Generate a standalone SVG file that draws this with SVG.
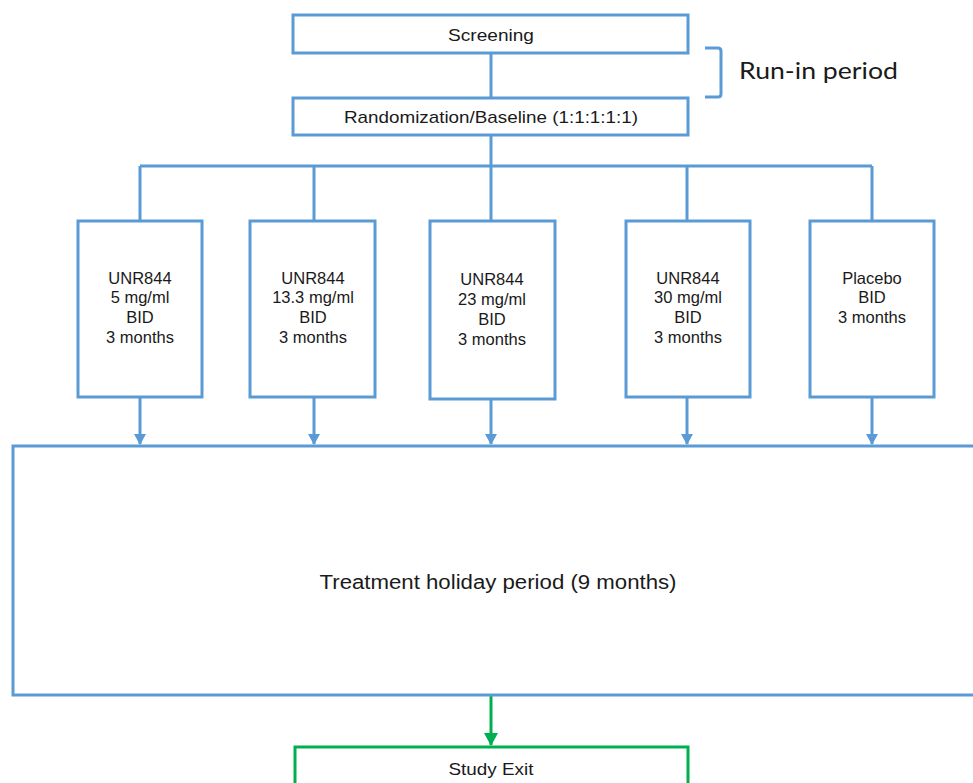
<svg xmlns="http://www.w3.org/2000/svg" width="973" height="783" viewBox="0 0 973 783">
<style>
.b{fill:#fff;stroke:#5B9BD5;stroke-width:3}
.g{fill:#fff;stroke:#00B050;stroke-width:3}
.c{fill:none;stroke:#5B9BD5;stroke-width:3}
.cg{fill:none;stroke:#00B050;stroke-width:3}
text{font-family:"Liberation Sans",Arial,sans-serif;fill:#1a1a1a;text-anchor:middle}
.s{font-size:16.5px}
.t{font-size:17px}
</style>
<defs>
<marker id="ab" markerWidth="12" markerHeight="11" refX="6" refY="10" markerUnits="userSpaceOnUse" viewBox="0 0 12 11"><path d="M0,0 L12,0 L6,11 Z" fill="#5B9BD5"/></marker>
<marker id="ag" markerWidth="14" markerHeight="13" refX="7" refY="12" markerUnits="userSpaceOnUse" viewBox="0 0 14 13"><path d="M0,0 L14,0 L7,13 Z" fill="#00B050"/></marker>
</defs>
<rect width="973" height="783" fill="#fff"/>
<g id="connectors">
<path class="c" d="M491,53 V98"/>
<path class="c" d="M491,135 V166 M140,166 H872 M140,166 V221 M314,166 V221 M687,166 V221 M872,166 V221 M491,166 V221"/>
<path class="c" d="M140,397 V444" marker-end="url(#ab)"/>
<path class="c" d="M314,397 V444" marker-end="url(#ab)"/>
<path class="c" d="M491,399 V444" marker-end="url(#ab)"/>
<path class="c" d="M687,397 V444" marker-end="url(#ab)"/>
<path class="c" d="M872,397 V444" marker-end="url(#ab)"/>
<path class="cg" d="M491,696 V745" marker-end="url(#ag)"/>
</g>
<g id="bracket">
<path class="c" d="M705,48 H718 Q721,48 721,51 V94 Q721,97 718,97 H705"/>
<text x="739" y="79" style="font-family:Lato,'Open Sans',sans-serif;font-size:24px;text-anchor:start" textLength="159" lengthAdjust="spacingAndGlyphs">Run-in period</text>
</g>
<g id="screening"><rect class="b" x="293" y="15" width="395" height="38"/><text class="t" x="491" y="41" textLength="86" lengthAdjust="spacingAndGlyphs">Screening</text></g>
<g id="randomization"><rect class="b" x="293" y="98" width="395" height="37"/><text class="t" x="491" y="123" textLength="294" lengthAdjust="spacingAndGlyphs">Randomization/Baseline (1:1:1:1:1)</text></g>
<g id="arm1"><rect class="b" x="78" y="221" width="124" height="176"/>
<text class="s" x="140" y="284">UNR844</text><text class="s" x="140" y="303">5 mg/ml</text><text class="s" x="140" y="323">BID</text><text class="s" x="140" y="343">3 months</text></g>
<g id="arm2"><rect class="b" x="250" y="221" width="125" height="176"/>
<text class="s" x="313" y="284">UNR844</text><text class="s" x="313" y="303">13.3 mg/ml</text><text class="s" x="313" y="323">BID</text><text class="s" x="313" y="343">3 months</text></g>
<g id="arm3"><rect class="b" x="430" y="221" width="125" height="178"/>
<text class="s" x="492" y="285">UNR844</text><text class="s" x="492" y="305">23 mg/ml</text><text class="s" x="492" y="325">BID</text><text class="s" x="492" y="345">3 months</text></g>
<g id="arm4"><rect class="b" x="626" y="221" width="124" height="176"/>
<text class="s" x="688" y="284">UNR844</text><text class="s" x="688" y="303">30 mg/ml</text><text class="s" x="688" y="323">BID</text><text class="s" x="688" y="343">3 months</text></g>
<g id="arm5"><rect class="b" x="810" y="221" width="124" height="176"/>
<text class="s" x="872" y="284">Placebo</text><text class="s" x="872" y="303">BID</text><text class="s" x="872" y="323">3 months</text></g>
<g id="holiday"><rect class="b" x="13" y="446" width="975" height="249"/>
<text x="498" y="589" style="font-size:20px" textLength="357" lengthAdjust="spacingAndGlyphs">Treatment holiday period (9 months)</text></g>
<g id="exit"><rect class="g" x="295" y="747" width="393" height="50"/><text class="t" x="491" y="775" textLength="85" lengthAdjust="spacingAndGlyphs">Study Exit</text></g>
</svg>
